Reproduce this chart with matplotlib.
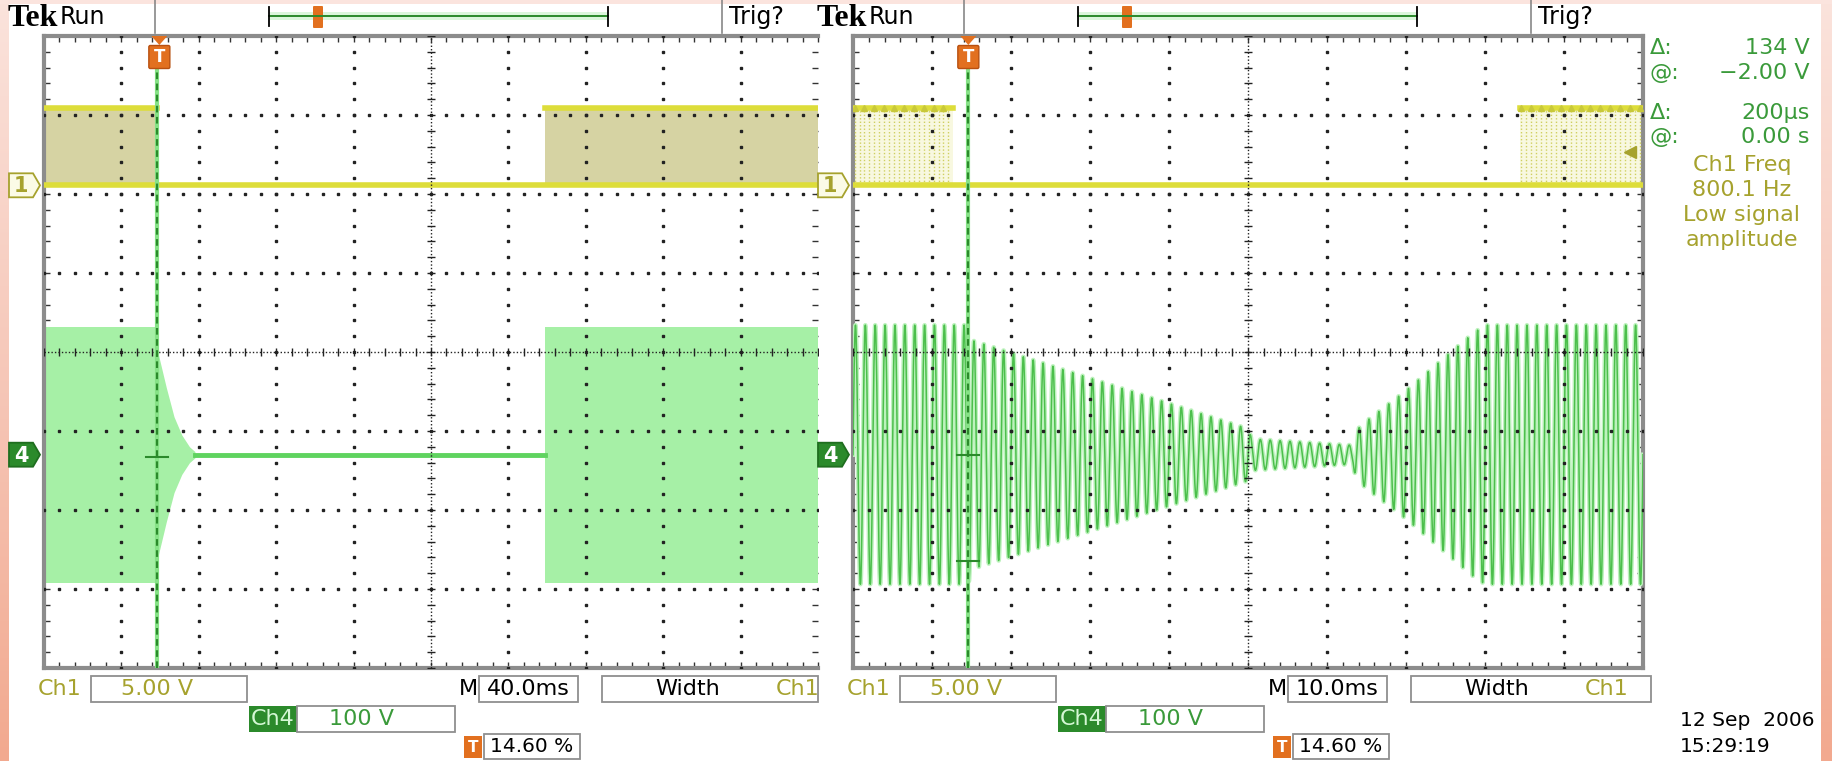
import numpy as np
import matplotlib
matplotlib.use("Agg")
import matplotlib.pyplot as plt
from matplotlib.patches import Rectangle, Polygon, FancyBboxPatch
from matplotlib.colors import LinearSegmentedColormap

W, H = 1833, 761

# ---- values (units: divisions) ----
trig_div = 1.46                    # trigger position 14.60 %
ch1_low, ch1_high = 2.11, 3.09     # ch1 low / high level
ch4_gnd = -1.30                    # ch4 ground marker
ch4_amp = 1.62                     # full ch4 amplitude

# left screen, 40 ms/div
left_ch1_on = [(0.0, 1.46), (6.47, 10.0)]
left_ch4_on = [(0.0, 1.46), (6.47, 10.0)]
left_decay_div = [1.46, 1.47, 1.58, 1.68, 1.78, 1.88, 1.95]
left_decay_amp = [1.62, 1.30, 0.85, 0.48, 0.25, 0.10, 0.04]
left_cursors = [-1.33]

# right screen, 10 ms/div
right_ch1_on = [(0.0, 1.27), (8.44, 10.0)]
right_env_div = [0.0, 1.46, 1.50, 5.00, 5.05, 6.33, 6.36, 6.49, 7.01, 7.85, 8.00, 10.0]
right_env_amp = [1.64, 1.64, 1.45, 0.33, 0.20, 0.12, 0.30, 0.42, 0.82, 1.54, 1.64, 1.64]
cycles_per_div = 8.0               # 800.1 Hz at 10 ms/div
right_cursors = [-1.30, -2.65]

timebase = ["40.0ms", "10.0ms"]
readout_keys = ["\u0394:", "@:", "\u0394:", "@:"]
readout_vals = ["134 V", "\u22122.00 V", "200\u00b5s", "0.00 s"]
freq_lines = ["Ch1 Freq", "800.1 Hz", "Low signal", "amplitude"]
date_lines = ["12 Sep  2006", "15:29:19"]

# colours
YEL = "#dddd3a"
KHAKI = "#d6d3a3"
OLIVE = "#a6a22e"
LGREEN = "#a6f0a6"
GREEN = "#4cbf4c"
DGREEN = "#2b8a2b"
ORANGE = "#e2701f"
TXTGREEN = "#3a9a3a"

# pixel geometry of the screens
GRID_TOP, GRID_BOT, DIV = 36, 668, 79
LEFT_X0 = 44
OFF = 809                           # right screenshot offset

plt.rcParams["font.family"] = ["DejaVu Sans"]
fig = plt.figure(figsize=(W / 100, H / 100), dpi=100)
fig.patch.set_facecolor("white")

# background: pink strips
bg = fig.add_axes([0, 0, 1, 1])
cmap = LinearSegmentedColormap.from_list("pink", ["#fbe3dc", "#f6c7b8", "#f2a98f"])
grad = np.linspace(0, 1, 256).reshape(-1, 1)
bg.imshow(grad, cmap=cmap, extent=(0, 9, H, 0), aspect="auto")
bg.imshow(grad, cmap=cmap, extent=(1821, W, H, 0), aspect="auto")
bg.add_patch(Rectangle((0, 0), W, 4, fc="#fbe4de", ec="none"))
bg.set_xlim(0, W)
bg.set_ylim(H, 0)
bg.axis("off")


def draw_screen(x0, xmax):
    ax = fig.add_axes([x0 / W, 1 - GRID_BOT / H, xmax * DIV / W, (GRID_BOT - GRID_TOP) / H])
    ax.set_xlim(0, xmax)
    ax.set_ylim(-4, 4)
    for s in ax.spines.values():
        s.set_color("#8c8c8c")
        s.set_linewidth(3)
    ax.set_xticks(np.arange(0, 10.01, 0.2))
    ax.set_yticks(np.arange(-4, 4.01, 0.2))
    ax.tick_params(direction="in", length=4, width=1, color="#333", top=True, right=True,
                   labelbottom=False, labelleft=False)
    dots = np.arange(-4, 4.01, 0.2)
    xs = np.arange(0, 10.01, 0.2)
    for v in range(1, 10):
        if v != 5:
            ax.plot(np.full_like(dots, v), dots, "s", ms=1.6, color="#222", zorder=5)
    for h in range(-3, 4):
        if h != 0:
            ax.plot(xs, np.full_like(xs, h), "s", ms=1.6, color="#222", zorder=5)
    ax.plot([0, 10], [0, 0], color="#222", lw=1, ls=(0, (1, 1.5)), zorder=5)
    ax.plot(xs, np.zeros_like(xs), "|", ms=6, color="#222", zorder=5)
    ax.plot([5, 5], [-4, 4], color="#222", lw=1, ls=(0, (1, 1.5)), zorder=5)
    ax.plot(np.full_like(dots, 5), dots, "_", ms=6, color="#222", zorder=5)
    return ax


def draw_trigger(ax, cursors):
    top = (GRID_BOT - GRID_TOP) / 2 / DIV - (68 - GRID_TOP) / DIV
    ax.plot([trig_div, trig_div], [-4, top], color="#86e286", lw=3, zorder=6)
    ax.plot([trig_div, trig_div], [-4, top], color=DGREEN, lw=1.6, ls=(0, (3, 2)), zorder=7)
    for c in cursors:
        ax.plot([trig_div - 0.14, trig_div + 0.14], [c, c], color=DGREEN, lw=1.5, zorder=7)


# ---- left screen (clipped by the right screenshot) ----
axL = draw_screen(LEFT_X0, (818 - LEFT_X0) / DIV)
axL.spines["right"].set_visible(False)
for a, b in left_ch1_on:
    axL.fill_between([a, b], ch1_low, ch1_high, color=KHAKI, lw=0, zorder=2)
    axL.plot([a, b], [ch1_high] * 2, color=YEL, lw=4, zorder=3)
axL.plot([0, 10], [ch1_low] * 2, color=YEL, lw=4, zorder=3)
for a, b in left_ch4_on:
    axL.fill_between([a, b], ch4_gnd - ch4_amp, ch4_gnd + ch4_amp, color=LGREEN, lw=0, zorder=2)
d = np.array(left_decay_amp)
axL.fill_between(left_decay_div, ch4_gnd - d, ch4_gnd + d, color=LGREEN, lw=0, zorder=2)
axL.plot([left_decay_div[-1], left_ch4_on[1][0]], [ch4_gnd] * 2, color="#5fd35f", lw=3.5, zorder=3)
draw_trigger(axL, left_cursors)

# ---- right screen ----
axR = draw_screen(LEFT_X0 + OFF, 10.0)
period = 1.0 / cycles_per_div
for a, b in right_ch1_on:
    axR.fill_between([a, b], ch1_low, ch1_high, color="#f8f8e0", lw=0, zorder=2)
    edges = np.arange(a + 0.02, b, period / 2)
    axR.vlines(edges, ch1_low, ch1_high, colors="#cfcf60", lw=1, linestyles=(0, (1, 1.5)), zorder=3)
    axR.plot([a, b], [ch1_high] * 2, color=YEL, lw=4, zorder=3)
    axR.plot(edges[::2], [ch1_high] * len(edges[::2]), "^", ms=4, color="#c8c83a", zorder=4)
axR.plot([0, 10], [ch1_low] * 2, color=YEL, lw=4, zorder=3)
t = np.linspace(0, 10, 8000)
env = np.interp(t, right_env_div, right_env_amp)
y = ch4_gnd + env * np.sin(2 * np.pi * cycles_per_div * t)
axR.plot(t, y, color="#bdf2bd", lw=3.2, zorder=3)
axR.plot(t, y, color=GREEN, lw=1.1, zorder=3)
draw_trigger(axR, right_cursors)
axR.plot(9.84, 2.53, marker="<", ms=9, color=OLIVE, zorder=6)

# ---- overlay: labels, boxes and markers in pixel coordinates ----
ov = fig.add_axes([0, 0, 1, 1])
ov.set_xlim(0, W)
ov.set_ylim(H, 0)
ov.axis("off")
ov.patch.set_alpha(0)


def box(x, y, w, h, fc="white"):
    ov.add_patch(Rectangle((x, y), w, h, fc=fc, ec="#8f8f8f", lw=1.3))


def ch_marker(x0, yc, label, fc, ec, tc):
    pts = [(x0, yc - 12), (x0 + 24, yc - 12), (x0 + 31, yc), (x0 + 24, yc + 12), (x0, yc + 12)]
    ov.add_patch(Polygon(pts, closed=True, fc=fc, ec=ec, lw=1.3))
    ov.text(x0 + 12, yc + 1, label, color=tc, fontsize=15, fontweight="bold", ha="center", va="center")


FS = 16
for i, off in enumerate([0, OFF]):
    # top bar
    ov.text(8 + off, 18, "Tek", fontsize=23, fontweight="bold", family="Liberation Serif",
            va="center", ha="left")
    ov.text(60 + off, 17, "Run", fontsize=17, va="center", ha="left")
    ov.plot([155 + off] * 2, [0, 33], color="#888", lw=1.2)
    ov.add_patch(Rectangle((269 + off, 12), 339, 8, fc="#dcf6dc", ec="none"))
    ov.plot([269 + off, 608 + off], [16, 16], color=DGREEN, lw=1.4)
    ov.plot([269 + off] * 2, [7, 26], color="k", lw=1.3)
    ov.plot([608 + off] * 2, [7, 26], color="k", lw=1.3)
    ov.add_patch(FancyBboxPatch((314 + off, 7), 8, 20, boxstyle="round,pad=1", fc=ORANGE, ec="none"))
    ov.plot([722 + off] * 2, [0, 33], color="#888", lw=1.2)
    ov.text(729 + off, 17, "Trig?", fontsize=17, va="center", ha="left")

    # trigger badge on top of the grid
    cx = LEFT_X0 + off + trig_div * DIV
    ov.add_patch(Polygon([(cx - 8, 36), (cx + 8, 36), (cx, 45)], closed=True, fc=ORANGE, ec="none"))
    ov.add_patch(FancyBboxPatch((cx - 9, 47), 18, 20, boxstyle="round,pad=1.5", fc=ORANGE, ec="#b85010", lw=1))
    ov.text(cx, 57, "T", color="white", fontsize=12, fontweight="bold", ha="center", va="center")

    # channel markers
    mx = 9 if off == 0 else 818
    ch_marker(mx, GRID_TOP + (4 - ch1_low) * DIV, "1", "#fbfbe6", OLIVE, OLIVE)
    ch_marker(mx, GRID_TOP + (4 - ch4_gnd) * DIV, "4", DGREEN, "#1f6e1f", "white")

    # bottom readouts
    ov.text(38 + off, 689, "Ch1", color=OLIVE, fontsize=FS, va="center", ha="left")
    box(91 + off, 676, 156, 26)
    ov.text(157 + off, 689, "5.00 V", color=OLIVE, fontsize=FS, va="center", ha="center")
    ov.text(478 + off, 689, "M", fontsize=FS, va="center", ha="right")
    box(479 + off, 676, 99, 26)
    ov.text(528 + off, 689, timebase[i], fontsize=FS, va="center", ha="center")
    box(602 + off, 676, 216 if off == 0 else 240, 26)
    ov.text(688 + off, 689, "Width", fontsize=FS, va="center", ha="center")
    ov.text(798 + off, 689, "Ch1", color=OLIVE, fontsize=FS, va="center", ha="center")
    ov.add_patch(Rectangle((249 + off, 706), 48, 26, fc=DGREEN, ec="none"))
    ov.text(273 + off, 719, "Ch4", color="#d4f7d4", fontsize=FS, va="center", ha="center")
    box(297 + off, 706, 158, 26)
    ov.text(362 + off, 719, "100 V", color=TXTGREEN, fontsize=FS, va="center", ha="center")
    ov.add_patch(Rectangle((464 + off, 736), 18, 22, fc=ORANGE, ec="none"))
    ov.text(473 + off, 748, "T", color="white", fontsize=11, fontweight="bold", va="center", ha="center")
    box(484 + off, 734, 96, 25)
    ov.text(532 + off, 747, "14.60 %", fontsize=14.5, va="center", ha="center")

# right side readout panel
for k, yy in enumerate([48, 73, 113, 137]):
    ov.text(1650, yy, readout_keys[k], color=TXTGREEN, fontsize=FS, va="center", ha="left")
    ov.text(1810, yy, readout_vals[k], color=TXTGREEN, fontsize=FS, va="center", ha="right")
for k, yy in enumerate([165, 190, 215, 240]):
    ov.text(1742, yy, freq_lines[k], color=OLIVE, fontsize=FS, va="center", ha="center")
for k, yy in enumerate([720, 747]):
    ov.text(1680, yy, date_lines[k], fontsize=14.5, va="center", ha="left")

fig.savefig("out.png", dpi=100, facecolor=fig.get_facecolor())
